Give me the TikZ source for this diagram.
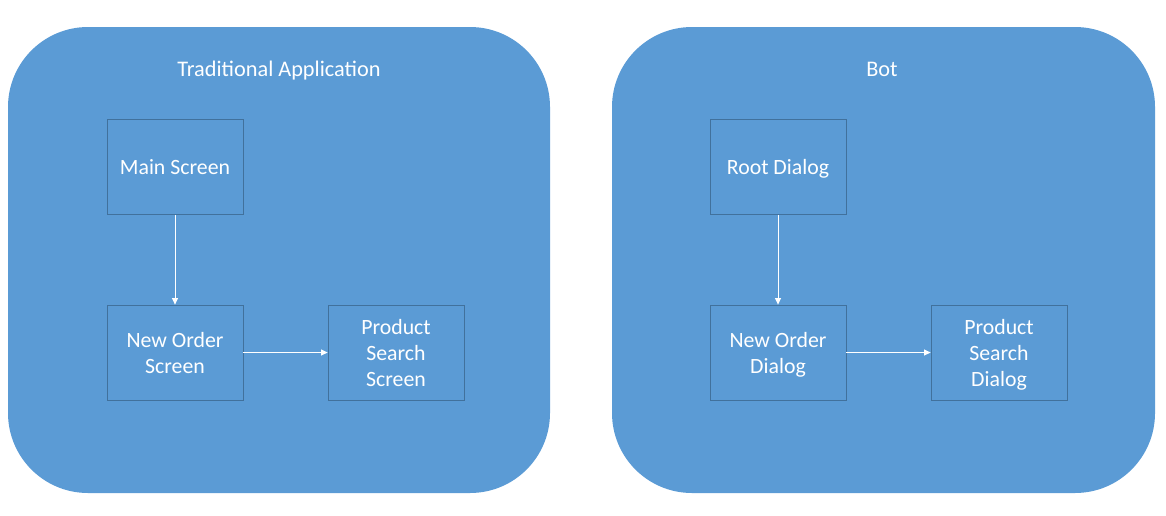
\documentclass[tikz,border=0pt]{standalone}
\usepackage{fontspec}
\setmainfont{Carlito}
\usetikzlibrary{arrows.meta}
\definecolor{offblue}{HTML}{5B9BD5}
\definecolor{boxedge}{HTML}{41719C}
\begin{document}
\begin{tikzpicture}[x=1pt,y=-1pt,
  panel/.style={fill=offblue,draw=none,rounded corners=80pt},
  stepbox/.style={draw=boxedge,line width=0.8pt,minimum width=136pt,minimum height=95pt,inner sep=0pt},
  boxtext/.style={text=white,align=center,inner sep=0pt,yshift=-2.5pt,font=\fontsize{21.8}{26}\selectfont},
  ttl/.style={text=white,font=\fontsize{22.3}{26}\selectfont},
  conn/.style={draw=white,line width=1pt,-{Triangle[width=6pt,length=6.5pt]}}]
\useasboundingbox (0,0) rectangle (1166,515);
\fill[panel] (8,27) rectangle (550,493);
\fill[panel] (612,27) rectangle (1155,493);
\node[ttl] (t1) at (279,71) {\strut Traditional Application};
\node[ttl] (t2) at (882,71) {\strut Bot};
\node[stepbox,label={[boxtext]center:\strut Main Screen}] (ms) at (175,167) {};
\node[stepbox,label={[boxtext]center:\strut New Order\\\strut Screen}] (nos) at (175,352.5) {};
\node[stepbox,label={[boxtext]center:\strut Product\\\strut Search\\\strut Screen}] (pss) at (396,352.5) {};
\node[stepbox,label={[boxtext]center:\strut Root Dialog}] (rd) at (778,167) {};
\node[stepbox,label={[boxtext]center:\strut New Order\\\strut Dialog}] (nod) at (778,352.5) {};
\node[stepbox,label={[boxtext]center:\strut Product\\\strut Search\\\strut Dialog}] (psd) at (999,352.5) {};
\draw[conn] (ms) -- (nos);
\draw[conn] (nos) -- (pss);
\draw[conn] (rd) -- (nod);
\draw[conn] (nod) -- (psd);
\end{tikzpicture}
\end{document}
